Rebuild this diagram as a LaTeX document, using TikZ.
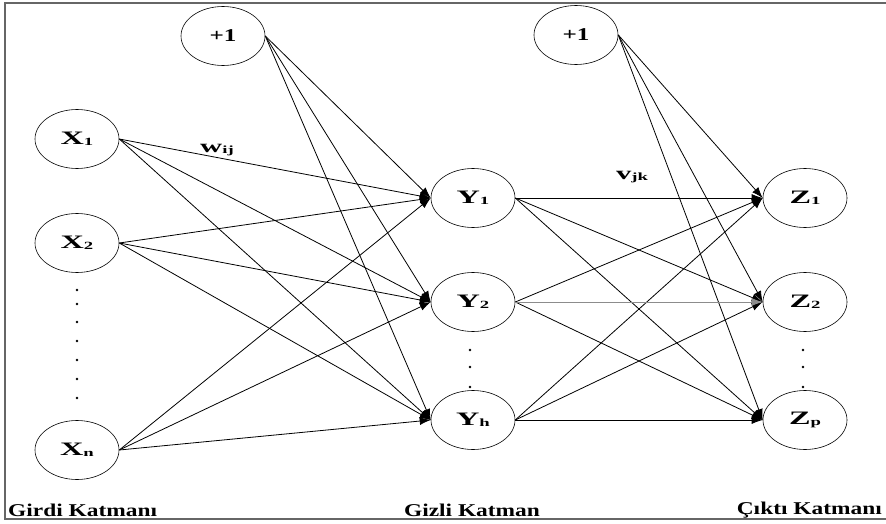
\documentclass[tikz,border=0pt]{standalone}
\usepackage{fontspec}
\setmainfont{Liberation Serif}
\newfontfamily\nodefont[FakeStretch=1.7]{Liberation Serif}
\newfontfamily\biasfont[FakeStretch=1.4]{Liberation Serif}
\newfontfamily\labfont[FakeStretch=1.3]{Liberation Serif}
\usetikzlibrary{shapes.geometric,arrows.meta}
\begin{document}
\begin{tikzpicture}[x=1pt,y=-1pt,
  neuron/.style={ellipse,draw,line width=0.6pt,minimum width=84pt,minimum height=59pt,inner sep=0pt,
    font=\nodefont\bfseries\fontsize{19}{19}\selectfont},
  bias/.style={neuron,font=\biasfont\bfseries\fontsize{18}{18}\selectfont},
  conn/.style={line width=0.8pt,-{Latex[length=11pt,width=8pt]}},
  dot/.style={circle,fill,inner sep=0pt,minimum size=2.6pt},
  layerlab/.style={font=\labfont\bfseries\fontsize{18}{18}\selectfont,inner sep=0pt},
  wlab/.style={font=\nodefont\bfseries\fontsize{18}{18}\selectfont,inner sep=0pt},
  frame/.style={draw=black!60,line width=2pt}]
\useasboundingbox (0,0) rectangle (886,524);
\newcommand{\sbs}[1]{\raisebox{-1.5pt}{\fontsize{11}{11}\selectfont #1}}
% frame
\coordinate (fa) at (886,3);
\coordinate (fb) at (5,3);
\coordinate (fc) at (5,519);
\coordinate (fd) at (886,519);
\draw[frame] (fa) -- (fb) -- (fc) -- (fd);
% nodes
\node[bias] (b1) at (223,36) {+1};
\node[bias] (b2) at (576,35) {+1};
\node[neuron] (x1) at (77,139) {X\sbs{1}};
\node[neuron] (x2) at (77,243) {X\sbs{2}};
\node[neuron] (xn) at (77,450) {X\sbs{n}};
\node[neuron] (y1) at (473,198) {Y\sbs{1}};
\node[neuron] (y2) at (473,302) {Y\sbs{2}};
\node[neuron] (yh) at (473,420) {Y\sbs{h}};
\node[neuron] (z1) at (805,198) {Z\sbs{1}};
\node[neuron] (z2) at (805,302) {Z\sbs{2}};
\node[neuron] (zp) at (805,420) {Z\sbs{p}};
% dots
\foreach \yy [count=\i] in {290,304,322,341,360,379,398} \node[dot] (dx\i) at (77,\yy) {};
\foreach \yy [count=\i] in {350,367,387} {\node[dot] (dy\i) at (470,\yy) {}; \node[dot] (dz\i) at (803,\yy) {};}
% connections input -> hidden
\foreach \s in {x1,x2,xn,b1}
  \foreach \t in {y1,y2,yh}
    \draw[conn] (\s.east) -- (\t.west);
% hidden -> output
\foreach \s/\t in {y1/z1,y1/z2,y1/zp,y2/z1,y2/zp,yh/z1,yh/z2,yh/zp,b2/z1,b2/z2,b2/zp}
    \draw[conn] (\s.east) -- (\t.west);
\draw[conn,draw=black!45,fill=black] (y2.east) -- (z2.west);
% labels
\node[wlab] (w) at (217,150) {w\sbs{ij}};
\node[wlab] (v) at (632,177) {v\sbs{jk}};
\node[layerlab,anchor=west] (l1) at (8,510) {Girdi Katmanı};
\node[layerlab] (l2) at (472,510) {Gizli Katman};
\node[layerlab,anchor=east] (l3) at (882,510) {Çıktı Katmanı};
\end{tikzpicture}
\end{document}
